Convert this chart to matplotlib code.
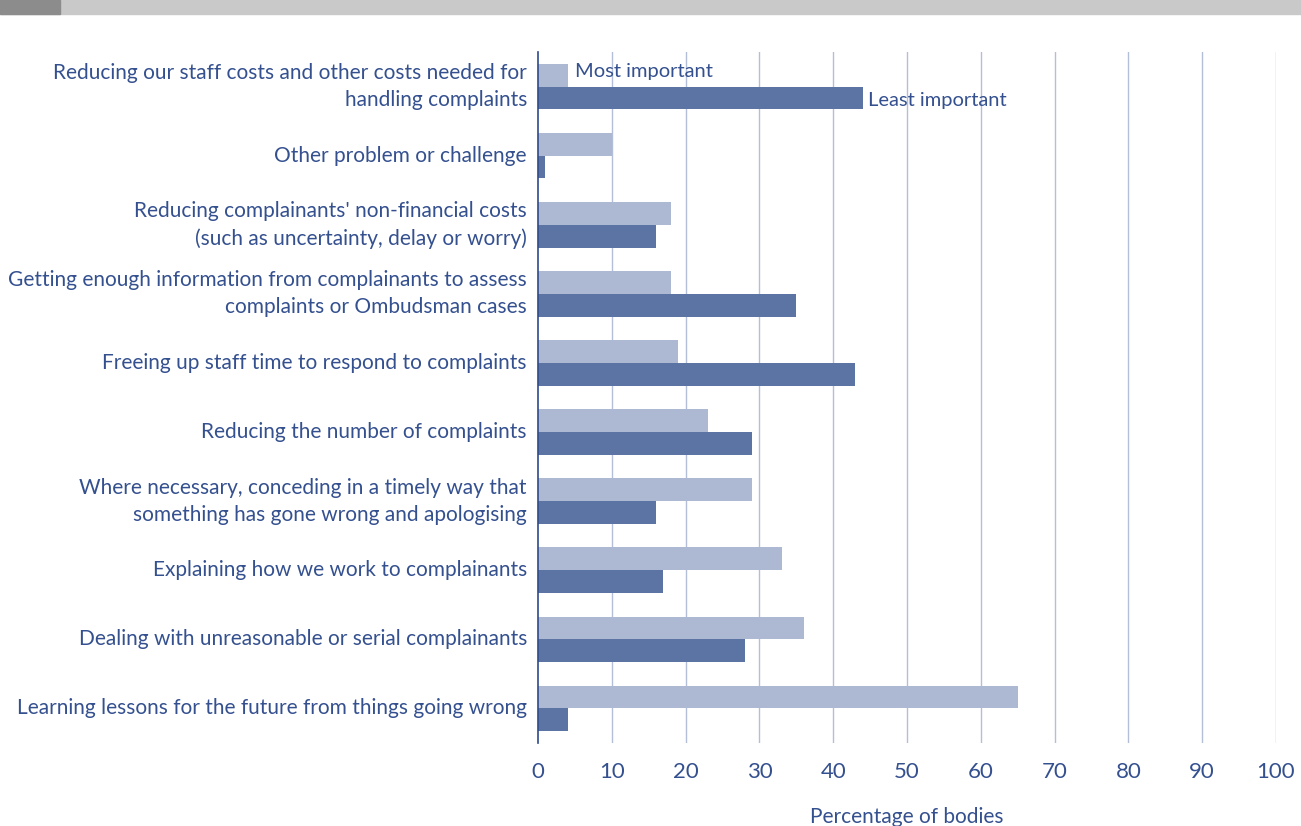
import matplotlib
matplotlib.use("Agg")
import matplotlib.pyplot as plt
import numpy as np

# survey categories, top to bottom
categories = [
    "Reducing our staff costs and other costs needed for\nhandling complaints",
    "Other problem or challenge",
    "Reducing complainants' non-financial costs\n(such as uncertainty, delay or worry)",
    "Getting enough information from complainants to assess\ncomplaints or Ombudsman cases",
    "Freeing up staff time to respond to complaints",
    "Reducing the number of complaints",
    "Where necessary, conceding in a timely way that\nsomething has gone wrong and apologising",
    "Explaining how we work to complainants",
    "Dealing with unreasonable or serial complainants",
    "Learning lessons for the future from things going wrong",
]
most_important = [4, 10, 18, 18, 19, 23, 29, 33, 36, 65]
least_important = [44, 1, 16, 35, 43, 29, 16, 17, 28, 4]
xticks = [0, 10, 20, 30, 40, 50, 60, 70, 80, 90, 100]

text_col = "#34508f"
light_col = "#adb9d3"
dark_col = "#5b74a4"
grid_col = "#b3bfd8"

plt.rcParams["font.family"] = ["Lato", "DejaVu Sans"]

fig = plt.figure(figsize=(13.01, 8.26), dpi=100)

# grey strip along the top edge
fig.patches.append(plt.Rectangle((0, 1 - 14 / 826), 1, 14 / 826, transform=fig.transFigure,
                                 color="#c9c9c9", zorder=0))
fig.patches.append(plt.Rectangle((0, 1 - 14 / 826), 60 / 1301, 14 / 826, transform=fig.transFigure,
                                 color="#8c8c8c", zorder=1))

ax = fig.add_axes([538 / 1301, 83 / 826, 738 / 1301, 691 / 826])

y = np.arange(len(categories))
h = 0.33
ax.barh(y - h / 2, most_important, height=h, color=light_col, zorder=2)
ax.barh(y + h / 2, least_important, height=h, color=dark_col, zorder=2)

ax.set_xlim(0, 100)
ax.set_ylim(len(categories) - 0.5, -0.5)
ax.set_xticks(xticks)
ax.set_xticklabels([str(t) for t in xticks], fontsize=16, color=text_col)
ax.set_yticks(y)
ax.set_yticklabels(categories, fontsize=15, color=text_col, linespacing=1.45)
for lab in ax.get_yticklabels():
    lab.set_va("center")
ax.tick_params(axis="both", length=0)
ax.tick_params(axis="x", pad=14)
ax.tick_params(axis="y", pad=8)

for v in xticks[1:]:
    ax.axvline(v, color=grid_col, lw=1, zorder=1)

for s in ["top", "right", "bottom"]:
    ax.spines[s].set_visible(False)
ax.spines["left"].set_color("#2e4a8a")
ax.spines["left"].set_linewidth(1.2)
ax.spines["left"].set_zorder(3)

ax.set_xlabel("Percentage of bodies", fontsize=15, color=text_col, labelpad=18)

# series labels beside the first pair of bars
ax.text(most_important[0] + 1, y[0] - h / 2 - 0.05, "Most important", fontsize=14.5,
        color=text_col, va="center", ha="left")
ax.text(least_important[0] + 0.7, y[0] + h / 2 + 0.03, "Least important", fontsize=14.5,
        color=text_col, va="center", ha="left")

fig.savefig("out.png", dpi=100)
